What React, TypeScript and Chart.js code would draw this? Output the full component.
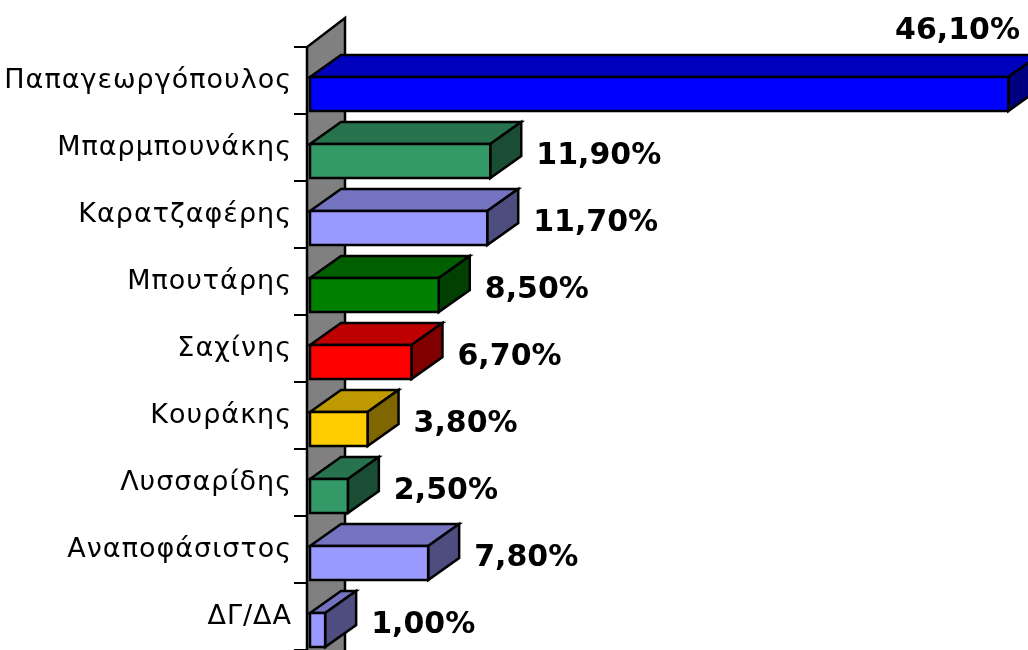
import { useEffect, useRef } from 'react';
import { Chart, registerables } from 'chart.js';

Chart.register(...registerables);

const categories = [
  'Παπαγεωργόπουλος',
  'Μπαρμπουνάκης',
  'Καρατζαφέρης',
  'Μπουτάρης',
  'Σαχίνης',
  'Κουράκης',
  'Λυσσαρίδης',
  'Αναποφάσιστος',
  'ΔΓ/ΔΑ',
];
const values = [46.1, 11.9, 11.7, 8.5, 6.7, 3.8, 2.5, 7.8, 1.0];
const barColors = ['#0000FF', '#339966', '#9999FF', '#008000', '#FF0000', '#FFCC00', '#339966', '#9999FF', '#9999FF'];

const DEPTH_X = 31;
const DEPTH_Y = -22;
const WALL_DX = 38;
const WALL_DY = -29;

function shade(hex: string, f: number): string {
  const n = parseInt(hex.slice(1), 16);
  const r = Math.round(((n >> 16) & 255) * f);
  const g = Math.round(((n >> 8) & 255) * f);
  const b = Math.round((n & 255) * f);
  return `rgb(${r},${g},${b})`;
}

const formatValue = (v: number) => v.toFixed(2).replace('.', ',') + '%';

const bar3dPlugin = {
  id: 'bar3d',
  beforeDraw(chart: any) {
    (chart.ctx as any).letterSpacing = '1px';
  },
  afterDraw(chart: any) {
    (chart.ctx as any).letterSpacing = '0px';
  },
  beforeDatasetsDraw(chart: any) {
    const { ctx, chartArea } = chart;
    const fx = chartArea.left - 3;
    const ty = chartArea.top;
    const bottom = chart.height + 10;
    ctx.save();
    ctx.beginPath();
    ctx.moveTo(fx, bottom);
    ctx.lineTo(fx, ty);
    ctx.lineTo(fx + WALL_DX, ty + WALL_DY);
    ctx.lineTo(fx + WALL_DX, bottom);
    ctx.closePath();
    ctx.fillStyle = '#808080';
    ctx.fill();
    ctx.lineWidth = 2.5;
    ctx.strokeStyle = '#000000';
    ctx.lineJoin = 'miter';
    ctx.stroke();
    ctx.restore();
  },
  afterDatasetsDraw(chart: any) {
    const { ctx } = chart;
    const meta = chart.getDatasetMeta(0);
    const data = chart.data.datasets[0].data as number[];
    const cols = chart.data.datasets[0].hoverBackgroundColor as string[];
    ctx.save();
    (ctx as any).letterSpacing = '0px';
    ctx.lineWidth = 2.5;
    ctx.strokeStyle = '#000000';
    ctx.lineJoin = 'miter';
    meta.data.forEach((el: any, i: number) => {
      const x0 = el.base;
      const x1 = el.x;
      const h = el.height;
      const cy = el.y + 13.5;
      const y0 = cy - h / 2;
      const y1 = cy + h / 2;
      const c = cols[i];
      // top face
      ctx.beginPath();
      ctx.moveTo(x0, y0);
      ctx.lineTo(x1, y0);
      ctx.lineTo(x1 + DEPTH_X, y0 + DEPTH_Y);
      ctx.lineTo(x0 + DEPTH_X, y0 + DEPTH_Y);
      ctx.closePath();
      ctx.fillStyle = shade(c, 0.75);
      ctx.fill();
      ctx.stroke();
      // side face
      ctx.beginPath();
      ctx.moveTo(x1, y0);
      ctx.lineTo(x1 + DEPTH_X, y0 + DEPTH_Y);
      ctx.lineTo(x1 + DEPTH_X, y1 + DEPTH_Y);
      ctx.lineTo(x1, y1);
      ctx.closePath();
      ctx.fillStyle = shade(c, 0.5);
      ctx.fill();
      ctx.stroke();
      // front face
      ctx.beginPath();
      ctx.rect(x0, y0, x1 - x0, y1 - y0);
      ctx.fillStyle = c;
      ctx.fill();
      ctx.stroke();

      // value label
      const txt = formatValue(data[i]);
      ctx.font = 'bold 30px "DejaVu Sans"';
      ctx.fillStyle = '#000000';
      ctx.textBaseline = 'alphabetic';
      const w = ctx.measureText(txt).width;
      const lx = x1 + 46;
      if (lx + w > chart.width - 4) {
        ctx.textAlign = 'right';
        ctx.fillText(txt, chart.width - 8, y0 + DEPTH_Y - 16);
      } else {
        ctx.textAlign = 'left';
        ctx.fillText(txt, lx, el.y + 5 + 11);
      }
    });
    ctx.restore();
  },
};

export default function App() {
  const canvasRef = useRef<HTMLCanvasElement | null>(null);

  useEffect(() => {
    const canvas = canvasRef.current;
    if (!canvas) return;
    const chart = new Chart(canvas, {
      type: 'bar',
      data: {
        labels: categories,
        datasets: [
          {
            data: values,
            backgroundColor: 'rgba(0,0,0,0)',
            hoverBackgroundColor: barColors,
            borderWidth: 0,
            barPercentage: 0.507,
            categoryPercentage: 1,
          },
        ],
      },
      options: {
        indexAxis: 'y',
        responsive: false,
        animation: false,
        events: [],
        layout: { padding: { top: 47, right: 0, bottom: 0, left: 0 } },
        plugins: {
          legend: { display: false },
          tooltip: { enabled: false },
        },
        scales: {
          x: {
            display: false,
            min: 0,
            max: 47.4,
          },
          y: {
            type: 'category',
            afterFit: (scale: any) => {
              scale.width = 310;
              scale.paddingTop = 0;
              scale.paddingBottom = 0;
            },
            border: { display: false },
            grid: {
              drawOnChartArea: false,
              drawTicks: true,
              tickLength: 16,
              color: '#000000',
              lineWidth: 2,
              offset: true,
            },
            ticks: {
              color: '#000000',
              padding: 2,
              font: { family: '"DejaVu Sans"', size: 27 },
            },
          },
        },
      },
      plugins: [bar3dPlugin],
    });
    return () => chart.destroy();
  }, []);

  return (
    <div style={{ position: 'fixed', left: 0, top: 0, width: 1028, height: 650, background: '#ffffff' }}>
      <canvas ref={canvasRef} width={1028} height={650} />
    </div>
  );
}
